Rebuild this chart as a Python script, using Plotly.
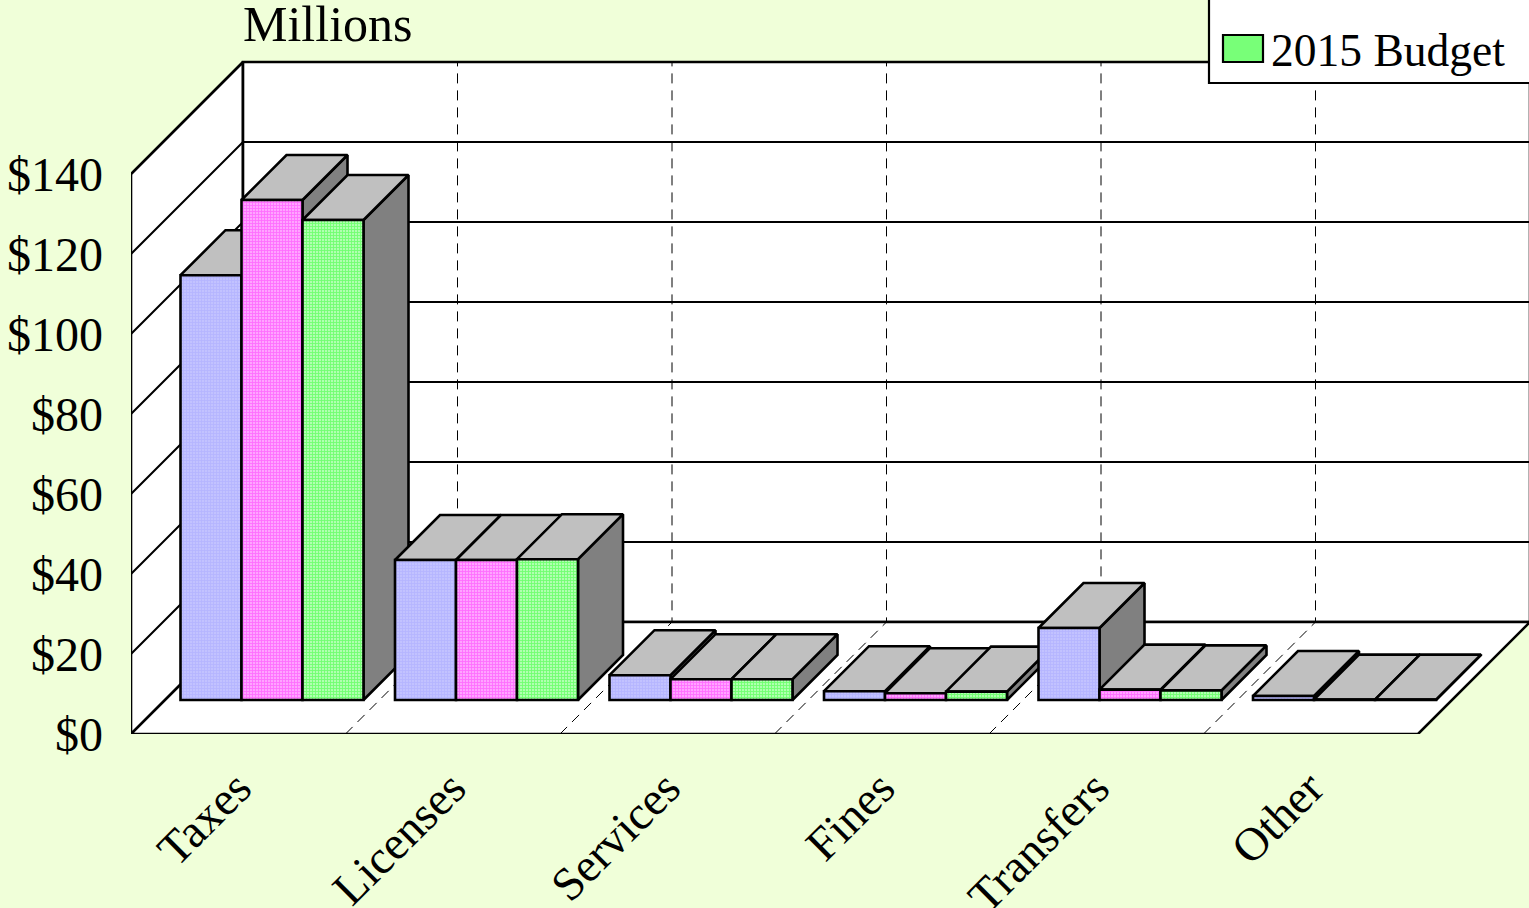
import plotly.graph_objects as go

categories = ["Taxes", "Licenses", "Services", "Fines", "Transfers", "Other"]
series_a = [106.2, 35.0, 6.2, 2.2, 18.0, 1.0]
series_b = [125.0, 35.0, 5.2, 1.7, 2.6, 0.1]
series_c = [120.0, 35.2, 5.2, 2.1, 2.4, 0.1]
y_ticks = [0, 20, 40, 60, 80, 100, 120, 140]
y_labels = ["$0", "$20", "$40", "$60", "$80", "$100", "$120", "$140"]
legend_label = "2015 Budget"
unit_label = "Millions"

W, H = 1529, 908
FLOOR = 734
L, B = 131, H - FLOOR
PX_X = 214.5          # pixels per category
PX_Y = 4.0            # pixels per dollar
WALL_D = 112          # depth of the chart box, px
BAR_OFF = 34          # bars sit this far behind the front plane, px
BAR_D = 45            # depth of a bar, px
BAR_W = 61            # width of a bar, px
GROUP_IN = 49.5       # front left of a group relative to category start, px
FONT = "Liberation Serif"
INK = "#000000"

xmax = (W - L) / PX_X
ymax = FLOOR / PX_Y
wx, wy = WALL_D / PX_X, WALL_D / PX_Y
dx, dy = BAR_D / PX_X, BAR_D / PX_Y
base = BAR_OFF / PX_Y
n = len(categories)
top = y_ticks[-1]

fig = go.Figure()


def poly(xs, ys, fill, width=2.6):
    fig.add_trace(go.Scatter(x=xs + xs[:1], y=ys + ys[:1], mode="lines", fill="toself",
                             fillcolor=fill, line=dict(color=INK, width=width),
                             hoverinfo="skip", showlegend=False))


def lines(xs, ys, width=2.0, dash="solid"):
    fig.add_trace(go.Scatter(x=xs, y=ys, mode="lines",
                             line=dict(color=INK, width=width, dash=dash),
                             hoverinfo="skip", showlegend=False))


# walls and floor
poly([0, wx, wx, 0], [0, wy, top + wy, top], "#ffffff")
poly([wx, n + wx, n + wx, wx], [wy, wy, top + wy, top + wy], "#ffffff")
poly([0, n, n + wx, wx], [0, 0, wy, wy], "#ffffff")

# grid on the back and left walls
gx, gy = [], []
for t in y_ticks[1:]:
    gx += [0, wx, n + wx, None]
    gy += [t, t + wy, t + wy, None]
lines(gx, gy)

# dashed category dividers
dx_l, dy_l = [], []
for k in range(1, n):
    dx_l += [k, k + wx, k + wx, None]
    dy_l += [0, wy, top + wy, None]
lines(dx_l, dy_l, width=1.0, dash="10px,7px")

series = [
    dict(name="Series 1", v=series_a, bg="#c2c2ff", fg="#a8a8ff"),
    dict(name="Series 2", v=series_b, bg="#ffa4ff", fg="#ff38ff"),
    dict(name=legend_label, v=series_c, bg="#b0ffb0", fg="#30ff30"),
]

# top and side faces, painted left to right
for i in range(n):
    for j, s in enumerate(series):
        x0 = i + (GROUP_IN + j * BAR_W) / PX_X
        x1 = x0 + BAR_W / PX_X
        yt = base + s["v"][i]
        poly([x1, x1, x1 + dx, x1 + dx], [base, yt, yt + dy, base + dy], "#808080")
        poly([x0, x1, x1 + dx, x0 + dx], [yt, yt, yt + dy, yt + dy], "#c0c0c0")

# front faces on an overlaid axis pair so they cover the faces behind them
for j, s in enumerate(series):
    fig.add_trace(go.Bar(
        x=[i + (GROUP_IN + j * BAR_W) / PX_X for i in range(n)],
        y=s["v"], base=base, width=BAR_W / PX_X, offset=0, name=s["name"],
        xaxis="x2", yaxis="y2", showlegend=False,
        marker=dict(color=s["bg"], line=dict(color=INK, width=2.6),
                    pattern=dict(shape="+", fgcolor=s["fg"], bgcolor=s["bg"],
                                 size=3, solidity=0.5)),
    ))


def px(x):
    return (x - L) / (W - L)


def py(y):
    return (FLOOR - y) / FLOOR


# legend box, cropped by the top and right edges like the reference
shapes = [
    dict(type="rect", xref="paper", yref="paper", x0=px(1209), x1=px(1560), y0=py(83), y1=py(-30),
         fillcolor="#ffffff", line=dict(color=INK, width=2.2), layer="above"),
    dict(type="rect", xref="paper", yref="paper", x0=px(1223), x1=px(1263), y0=py(62), y1=py(35),
         fillcolor="#78ff78", line=dict(color=INK, width=2.2), layer="above"),
]
annotations = [
    dict(text=legend_label, xref="paper", yref="paper", x=px(1269), y=py(51), xanchor="left",
         yanchor="middle", showarrow=False, font=dict(family=FONT, size=45.5, color=INK)),
    dict(text=unit_label, xref="paper", yref="paper", x=px(241), y=py(24), xanchor="left",
         yanchor="middle", showarrow=False, font=dict(family=FONT, size=50, color=INK)),
]

axis_common = dict(showgrid=False, zeroline=False, showline=False)
fig.update_layout(
    width=W, height=H, autosize=False,
    margin=dict(l=L, r=0, t=0, b=B, pad=0, autoexpand=False),
    paper_bgcolor="#f0ffd9", plot_bgcolor="rgba(0,0,0,0)",
    barmode="overlay", shapes=shapes, annotations=annotations, showlegend=False,
    font=dict(family=FONT, color=INK),
    xaxis=dict(range=[0, xmax], tickmode="array", tickvals=[i + 0.5 for i in range(n)],
               ticktext=categories, tickangle=-45, ticks="", ticklabelstandoff=16,
               ticklabelshift=-1, tickfont=dict(family=FONT, size=47, color=INK), **axis_common),
    yaxis=dict(range=[0, ymax], tickmode="array", tickvals=y_ticks, ticktext=y_labels,
               ticks="", ticklabelstandoff=27, ticklabelshift=0,
               tickfont=dict(family=FONT, size=48, color=INK), **axis_common),
    xaxis2=dict(range=[0, xmax], overlaying="x", visible=False),
    yaxis2=dict(range=[0, ymax], overlaying="y", visible=False),
)

fig.write_html("out.html", config={"displayModeBar": False},
               post_script="document.body.style.margin='0';document.body.style.overflow='hidden';")
